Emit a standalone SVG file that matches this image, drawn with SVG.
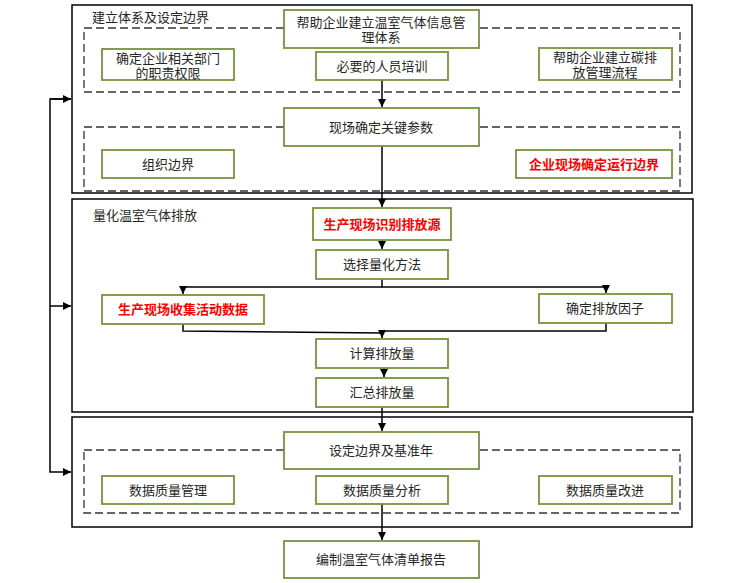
<svg xmlns="http://www.w3.org/2000/svg" width="746" height="583" viewBox="0 0 746 583">
<defs>
<marker id="ah" viewBox="0 0 10 10" refX="10" refY="5" markerWidth="5" markerHeight="5" orient="auto" markerUnits="userSpaceOnUse">
<path d="M0,0 L10,5 L0,10 z" fill="#000"/>
</marker>
<marker id="ah2" viewBox="0 0 10 10" refX="10" refY="5" markerWidth="8" markerHeight="8" orient="auto" markerUnits="userSpaceOnUse">
<path d="M0,0 L10,5 L0,10 z" fill="#000"/>
</marker>
</defs>
<style>
text{font-family:"Liberation Sans","Noto Sans CJK SC",sans-serif;font-size:13px;fill:#262626;text-anchor:middle}
.t{text-anchor:start}
.red{fill:#FF0000;font-weight:bold}
.outer{fill:none;stroke:#000;stroke-width:1.5}
.dash{fill:none;stroke:#333;stroke-width:1.3;stroke-dasharray:8,4}
.g rect{fill:#fff;stroke:#77933C;stroke-width:1.8}
.c{fill:none;stroke:#000;stroke-width:1.5}
</style>
<rect width="746" height="583" fill="#fff"/>
<g id="containers">
<rect class="outer" x="72" y="5" width="620" height="188"/>
<rect class="outer" x="72" y="199" width="621" height="213"/>
<rect class="outer" x="72" y="417" width="620" height="110"/>
<rect class="dash" x="84" y="28" width="596" height="64"/>
<rect class="dash" x="84" y="127" width="596" height="64"/>
<rect class="dash" x="84" y="450" width="596" height="63"/>
<text class="t" x="92" y="22">建立体系及设定边界</text>
<text class="t" x="93" y="220">量化温室气体排放</text>
</g>
<g id="connectors">
<path class="c" d="M382,80 V107" marker-end="url(#ah2)"/>
<path class="c" d="M382,146 V207" marker-end="url(#ah2)"/>
<path class="c" d="M382,240 V249" marker-end="url(#ah2)"/>
<path class="c" d="M382,279 V287 H183 V294" marker-end="url(#ah2)"/>
<path class="c" d="M382,287 H606 V293" marker-end="url(#ah2)"/>
<path class="c" d="M183,324 V331 L382,333 V338" marker-end="url(#ah2)"/>
<path class="c" d="M606,323 V331 H382"/>
<path class="c" d="M384,368 V377" marker-end="url(#ah2)"/>
<path class="c" d="M382,407 V431" marker-end="url(#ah2)"/>
<path class="c" d="M382,504 V540" marker-end="url(#ah2)"/>
<path class="c" d="M71,99 H50 V472 H71" marker-end="url(#ah2)"/>
<path class="c" d="M50,99 H71" marker-end="url(#ah2)"/>
<path class="c" d="M50,306 H71" marker-end="url(#ah2)"/>
</g>
<g id="n1" class="g"><rect x="284" y="10" width="195" height="38"/><text x="381" y="26.5">帮助企业建立温室气体信息管</text><text x="381" y="41.5">理体系</text></g>
<g id="n2" class="g"><rect x="102" y="49" width="132" height="31"/><text x="168" y="62.5">确定企业相关部门</text><text x="168" y="77.5">的职责权限</text></g>
<g id="n3" class="g"><rect x="316" y="52" width="132" height="28"/><text x="382" y="70.5">必要的人员培训</text></g>
<g id="n4" class="g"><rect x="539" y="48" width="133" height="32"/><text x="605" y="61.5">帮助企业建立碳排</text><text x="605" y="76.5">放管理流程</text></g>
<g id="n5" class="g"><rect x="284" y="108" width="195" height="38"/><text x="381" y="131.5">现场确定关键参数</text></g>
<g id="n6" class="g"><rect x="102" y="150" width="132" height="28"/><text x="168" y="168.5">组织边界</text></g>
<g id="n7" class="g"><rect x="516" y="150" width="156" height="28"/><text class="red" x="594" y="168.5">企业现场确定运行边界</text></g>
<g id="n8" class="g"><rect x="313" y="208" width="138" height="32"/><text class="red" x="382" y="228.5">生产现场识别排放源</text></g>
<g id="n9" class="g"><rect x="316" y="250" width="132" height="29"/><text x="382" y="269">选择量化方法</text></g>
<g id="n10" class="g"><rect x="102" y="295" width="162" height="29"/><text class="red" x="183" y="314">生产现场收集活动数据</text></g>
<g id="n11" class="g"><rect x="539" y="294" width="133" height="29"/><text x="605" y="313">确定排放因子</text></g>
<g id="n12" class="g"><rect x="316" y="339" width="132" height="29"/><text x="382" y="358">计算排放量</text></g>
<g id="n13" class="g"><rect x="316" y="378" width="132" height="29"/><text x="382" y="397">汇总排放量</text></g>
<g id="n14" class="g"><rect x="284" y="432" width="195" height="37"/><text x="381" y="455">设定边界及基准年</text></g>
<g id="n15" class="g"><rect x="102" y="476" width="132" height="28"/><text x="168" y="494.5">数据质量管理</text></g>
<g id="n16" class="g"><rect x="316" y="476" width="132" height="28"/><text x="382" y="494.5">数据质量分析</text></g>
<g id="n17" class="g"><rect x="539" y="476" width="133" height="28"/><text x="605" y="494.5">数据质量改进</text></g>
<g id="n18" class="g"><rect x="284" y="541" width="195" height="37"/><text x="381" y="564">编制温室气体清单报告</text></g>
</svg>
